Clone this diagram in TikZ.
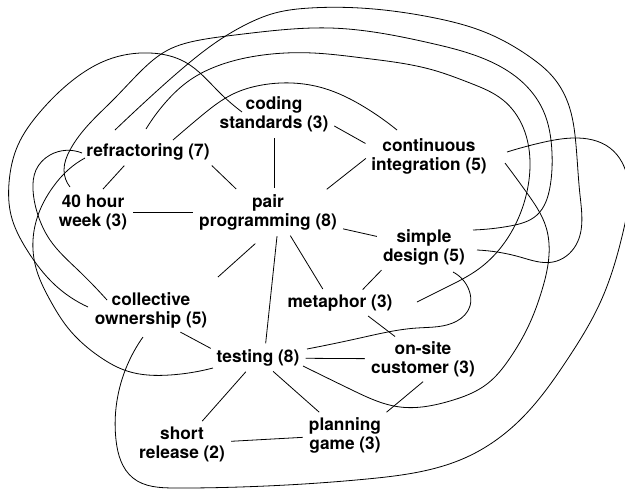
\documentclass[tikz,border=0pt]{standalone}
\usepackage{fontspec}
\setmainfont{TeX Gyre Heros}
\usetikzlibrary{hobby}
\usetikzlibrary{calc}

\tikzset{
  practice/.style={font=\fontsize{17.3}{19}\selectfont\bfseries, align=center, inner sep=2pt},
  link/.style={shorten <=4pt, shorten >=4pt}
}

\begin{document}
\begin{tikzpicture}[x=1pt, y=-1pt, line width=0.8pt, use Hobby shortcut]
      \useasboundingbox (0,0) rectangle (625,491);
      \node[practice] (cs) at (274,114) {coding\\standards (3)};
      \node[practice] (ref) at (148,152) {refractoring (7)};
      \node[practice] (fh) at (93,212) {40 hour\\week (3)};
      \node[practice] (pp) at (268,212) {pair\\programming (8)};
      \node[practice] (ci) at (429,156) {continuous\\integration (5)};
      \node[practice] (sd) at (424,247) {simple\\design (5)};
      \node[practice] (met) at (340,303) {metaphor (3)};
      \node[practice] (co) at (151,310) {collective\\ownership (5)};
      \node[practice] (tst) at (258,358) {testing (8)};
      \node[practice] (osc) at (423,359) {on-site\\customer (3)};
      \node[practice] (sr) at (182,444) {short\\release (2)};
      \node[practice] (pg) at (345,435) {planning\\game (3)};
      \draw[link] (cs.south) -- (cs.south |- pp.north);
      \draw[link] (cs.-10) -- (ci.170);
      \draw[link] (ref.-153) -- (fh.70);
      \draw[link] (ref.-10) -- (pp.145);
      \draw[link] (fh) -- (pp);
      \draw[link] (pp.20) -- (ci.west);
      \draw[link] (pp) -- (sd);
      \draw[link] (pp.-45) -- (met.145);
      \draw[link] (pp.-65) -- (tst.56);
      \draw[shorten <=17pt, shorten >=19pt] (pp.south) -- (co.21);
      \draw[link] (sd.-153) -- (met.28);
      \draw[link] (met.-23) -- (osc.141);
      \draw[link] (co.-38) -- (tst.170);
      \draw[link] (tst) -- (osc);
      \draw[link] (tst) -- (sr);
      \draw[link] (tst) -- (pg);
      \draw[link] (sr) -- (pg);
      \draw[link] (osc.-81) -- (pg.north east);
      \draw ($(tst.center)+(49,-9)$) .. (360,338) .. (417,328) .. (457,321) .. (470,306) .. (469,290) .. ($(sd.center)+(29,25)$);
      \draw ($(ci.center)+(76,7)$) .. (527,193) .. (546,227) .. (549,255) .. (542,290) .. (528,327) .. (510,358) .. (487,384) .. (450,401) .. (400,407) .. (352,390) .. ($(tst.center)+(45,8)$);
      \draw ($(ref.center)+(25,-12)$) .. (200,117) .. (233,94) .. (262,85) .. (292,83) .. (323,88) .. (366,108) .. ($(ci.center)+(-32,-26)$);
      \draw ($(ci.center)+(78,-4)$) .. (540,143) .. (573,138) .. (610,148) .. (628,180) .. (624,228) .. (600,303) .. (567,360) .. (520,420) .. (467,457) .. (367,479) .. (240,487) .. (175,488) .. (133,478) .. (116,440) .. (118,395) .. ($(co.center)+(-8,27)$);
      \draw ($(co.center)+(-63,-3)$) .. (55,285) .. (27,250) .. (11,215) .. (9,183) .. (18,145) .. (40,112) .. (73,80) .. (107,60) .. (150,53) .. (185,62) .. (220,93) .. ($(cs.center)+(-32,-2)$);
      \draw ($(ref.center)+(-33,-22)$) .. (147,100) .. (183,68) .. (215,43) .. (245,25) .. (275,13) .. (310,8) .. (360,8) .. (430,17) .. (487,33) .. (530,57) .. (553,77) .. (568,103) .. (576,145) .. (580,195) .. (576,245) .. (553,262) .. (520,257) .. ($(sd.center)+(53,3)$);
      \draw ($(ref.center)+(-2,-23)$) .. (165,103) .. (190,80) .. (220,65) .. (263,55) .. (313,53) .. (363,58) .. (433,70) .. (470,83) .. (503,100) .. (523,127) .. (530,167) .. (524,203) .. (505,242) .. (480,268) .. (445,288) .. ($(met.center)+(77,-1)$);
      \draw ($(fh.center)+(-23,-25)$) .. (64,170) .. (70,150) .. (90,123) .. (113,100) .. (140,72) .. (168,50) .. (200,40) .. (235,35) .. (280,30) .. (330,28) .. (380,33) .. (430,43) .. (487,60) .. (520,80) .. (543,110) .. (552,153) .. (550,187) .. (537,215) .. (510,226) .. ($(sd.center)+(49,-17)$);
      \draw ($(ref.center)+(-66,1)$) .. (50,155) .. (36,170) .. (33,190) .. (37,212) .. (50,240) .. (78,270) .. ($(co.center)+(-44,-10)$);
      \draw ($(ref.center)+(-63,6)$) .. (68,170) .. (53,187) .. (40,210) .. (33,240) .. (36,268) .. (50,300) .. (68,328) .. (100,357) .. (127,371) .. (170,375) .. ($(tst.center)+(-45,10)$);
    \end{tikzpicture}
\end{document}
